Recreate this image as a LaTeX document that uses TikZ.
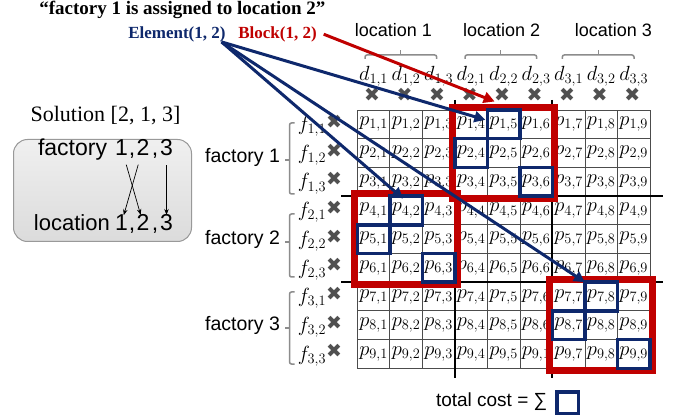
\RequirePackage{fix-cm}
\documentclass[tikz,border=0pt]{standalone}
\usepackage{fontspec}
\setmainfont{Liberation Serif}
\newfontfamily\sansf{Liberation Sans}
\newfontfamily\dvs{DejaVu Sans}
\usetikzlibrary{arrows.meta,fit}
\definecolor{navyb}{RGB}{14,40,108}
\definecolor{redb}{RGB}{192,0,0}
\definecolor{brgray}{RGB}{140,140,140}
\definecolor{xgray}{RGB}{80,80,80}
\begin{document}
\begin{tikzpicture}[x=1pt,y=-1pt,
 every node/.style={inner sep=0pt,outer sep=0pt},
 cell/.style={draw=black!70,line width=0.8pt,minimum width=32.52pt,minimum height=28.7pt,font=\fontsize{20.5}{22}\selectfont},
 lbl/.style={font=\fontsize{20.5}{22}\selectfont},
 redframe/.style={draw=redb,line width=7pt,inner sep=2.5pt},
 bluebox/.style={draw=navyb,line width=3.5pt},
 xmark/.style={text=xgray,font=\dvs\fontsize{19}{19}\selectfont},
 sepline/.style={line width=2pt,black},
 brace/.style={draw=brgray,line width=1.5pt,rounded corners=2pt},
 sanslbl/.style={font=\sansf\fontsize{18}{20}\selectfont},
 faclbl/.style={font=\sansf\fontsize{19.5}{21}\selectfont},
 boxtxt/.style={font=\sansf\fontsize{23}{25}\selectfont,anchor=base},
 navyarrow/.style={draw=navyb,line width=3pt,-{Triangle[length=11pt,width=11pt]}},
 redarrow/.style={draw=redb,line width=3pt,-{Triangle[length=11pt,width=11pt]}},
 thinarrow/.style={draw=black,line width=0.7pt,-{Stealth[length=6pt,width=4.5pt]}},
]
\useasboundingbox[fill=white] (0,0) rectangle (673,417);

% grid of cells
\foreach \i in {1,...,9}{
 \foreach \j in {1,...,9}{
  \pgfmathtruncatemacro{\sub}{(\i==9 && \j==6) ? 1 : \j}
  \node[cell] (c-\i-\j) at ({357.3+(\j-0.5)*32.52},{110+(\i-0.5)*28.7}) {$p_{\i,\sub}$};
 }}

% thick separators
\draw[sepline] (454.9,100) -- (454.9,378);
\draw[sepline] (552.4,100) -- (552.4,378);
\draw[sepline] (341,196.1) -- (663,196.1);
\draw[sepline] (341,282.2) -- (663,282.2);

% red block frames
\node[redframe,fit=(c-1-4)(c-3-6)] (b12) {};
\node[redframe,fit=(c-4-1)(c-6-3)] (b21) {};
\node[redframe,fit=(c-7-7)(c-9-9)] (b33) {};

% blue element boxes
\foreach \i/\j in {1/5,2/4,3/6,4/2,5/1,6/3,7/8,8/7,9/9}
 \draw[bluebox] (c-\i-\j.north west) rectangle (c-\i-\j.south east);

% crosses
\foreach \j in {1,...,9}
 \node[xmark] (tx-\j) at ({357.3+(\j-0.5)*32.52-1.5},95) {✖};
\foreach \i in {1,...,9}
 \node[xmark] (lx-\i) at (334,{110+(\i-0.5)*28.7-2.6}) {✖};

% d and f labels
\foreach \j in {1,...,9}{
 \pgfmathtruncatemacro{\fa}{int((\j-1)/3)+1}
 \pgfmathtruncatemacro{\fb}{\j-3*(\fa-1)}
 \node[lbl] (d-\j) at ({357.3+(\j-0.5)*32.52},76) {$d_{\fa,\fb}$};
 \node[lbl] (f-\j) at (312,{110+(\j-0.5)*28.7+2}) {$f_{\fa,\fb}$};
}

% factory braces
\foreach \k/\t/\bt/\m in {1/123/194/160, 2/214/277/242, 3/292/364/328}{
 \draw[brace] (294.5,\t) -- (289.5,\t) -- (289.5,\bt) -- (294.5,\bt);
 \draw[brace] (289.5,\m) -- (284.5,\m);
 \node[faclbl,anchor=mid east] (fac-\k) at (280,\m) {factory \k};
}

% location brackets
\foreach \k/\l/\r/\m/\c in {1/365/436.7/400.7/393.3, 2/465/536.7/500.7/501.7, 3/562.3/634/598.3/613.3}{
 \draw[brace] (\l,59) -- (\l,55) -- (\r,55) -- (\r,59);
 \draw[brace] (\m,55) -- (\m,50);
 \node[sanslbl,anchor=base] (loc-\k) at (\c,36.7) {location \k};
}

% solution panel
\node[font=\fontsize{22}{24}\selectfont,anchor=base] (sol) at (105.5,121.7) {Solution [2, 1, 3]};
\node[draw=black!40,line width=1pt,rounded corners=14pt,top color=black!6,bottom color=black!14,minimum width=178pt,minimum height=102pt] (solbox) at (102.5,190.5) {};
\node[boxtxt,anchor=base west] (bxf) at (38,156) {factory};
\node[boxtxt] (t1) at (121.5,156) {1};
\node[boxtxt] (tc1) at (132,156) {,};
\node[boxtxt] (t2) at (143,156) {2};
\node[boxtxt] (tc2) at (155,156) {,};
\node[boxtxt] (t3) at (166.5,156) {3};
\node[boxtxt,anchor=base west,font=\sansf\fontsize{22}{24}\selectfont] (bxl) at (34,231) {location};
\node[boxtxt] (b1) at (121.5,231) {1};
\node[boxtxt] (bc1) at (132,231) {,};
\node[boxtxt] (b2) at (143,231) {2};
\node[boxtxt] (bc2) at (155,231) {,};
\node[boxtxt] (b3) at (166.5,231) {3};
\draw[thinarrow,shorten <=9pt] (t1) -- (b2);
\draw[thinarrow,shorten <=9pt] (t2) -- (b1);
\draw[thinarrow,shorten <=9pt] (t3) -- (b3);

% titles
\node[font=\bfseries\fontsize{19}{21}\selectfont,anchor=base west] (title) at (39.3,14.5) {“factory 1 is assigned to location 2”};
\node[font=\bfseries\fontsize{17}{19}\selectfont,text=navyb,anchor=base west] (el) at (128.3,38.3) {Element(1, 2)};
\node[font=\bfseries\fontsize{17}{19}\selectfont,text=redb,anchor=base west] (blk) at (238.3,38.3) {Block(1, 2)};

% total cost
\node[font=\sansf\fontsize{19}{21}\selectfont,anchor=base west] (tc) at (436,406) {total cost = ∑};
\node[draw=navyb,line width=3.5pt,minimum size=21.5pt] (tcbox) at (567.5,402.5) {};

% arrows
\draw[navyarrow] ([xshift=-4pt]el.south east) -- ([xshift=-2pt,yshift=4.5pt]c-1-5.west);
\draw[navyarrow] ([xshift=-4pt]el.south east) -- ([xshift=-3pt,yshift=-2.5pt]c-4-2.north);
\draw[navyarrow] ([xshift=-4pt]el.south east) -- (c-7-8.north west);
\draw[redarrow] ([xshift=7pt]blk.east) -- ([xshift=-9pt,yshift=6pt]b12.north);
\end{tikzpicture}
\end{document}
